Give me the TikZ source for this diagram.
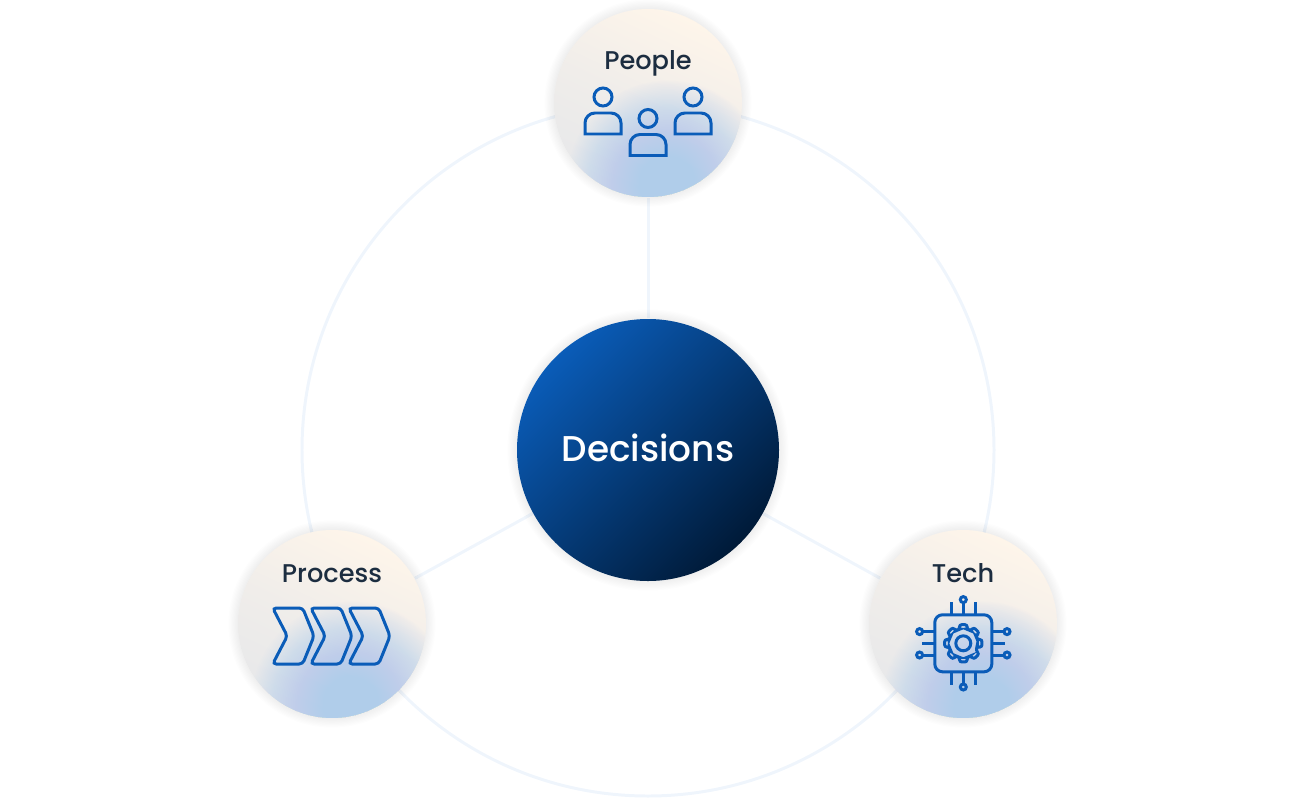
\documentclass[tikz,border=0pt]{standalone}
\usepackage{fontspec}
\setmainfont{Poppins Medium}
\usetikzlibrary{backgrounds}
\definecolor{ringblue}{HTML}{EFF5FC}
\definecolor{iconblue}{HTML}{0A5CB8}
\definecolor{inkdark}{HTML}{1C2D40}
\definecolor{blobcream}{HTML}{FEF5EA}
\definecolor{blobgray}{HTML}{E7E8EA}
\definecolor{blobtint}{HTML}{B0CDEE}
\definecolor{coretop}{HTML}{0A5CB8}
\definecolor{corelow}{HTML}{001A38}
\tikzset{
  ringline/.style={draw=ringblue, line width=0.85pt},
  iconline/.style={draw=iconblue, line width=0.85pt},
  blob/.style={circle, minimum size=1.88cm, inner sep=0pt, shading=axis, top color=blobcream,
    bottom color=blobgray, middle color=blobgray!60!blobcream, shading angle=-25,
    path picture={
      \foreach \k in {1,...,60}
        \fill[blobtint, opacity=0.03] ([shift={(0.2,-0.78)}]path picture bounding box.center) circle ({1.02*(1-\k/61)});
    }},
  blobtitle/.style={font=\fontsize{7.3pt}{9pt}\selectfont, text=inkdark, inner sep=0pt, anchor=base},
  person/.pic={
    \draw[iconline] (0,0) circle (0.09);
    \draw[iconline] (-0.18,-0.37) -- (-0.18,-0.26) arc (180:90:0.1) -- (0.08,-0.16) arc (90:0:0.1) -- (0.18,-0.37) -- cycle;
  },
  chevron/.pic={
    \draw[iconline, rounded corners=1pt] (0,0.28) -- (0.30,0.28) -- (0.413,0) -- (0.30,-0.28) -- (0,-0.28) -- (0.146,0) -- cycle;
  },
}
\newcommand{\softglow}[2]{\foreach \g in {1,...,8} \fill[black, opacity=0.007] (#1) circle ({#2+\g*0.012});}
\begin{document}
\begin{tikzpicture}
    \useasboundingbox (0,0) rectangle (12.96,8.10);
    % Main nodes
    \node[circle, minimum size=2.62cm, inner sep=0pt, left color=coretop, right color=corelow, shading angle=45] (decisions) at (6.48,3.60) {};
    \node[font=\fontsize{10.2pt}{12pt}\selectfont, text=white, inner sep=0pt, anchor=base] (decisionslabel) at (6.48,3.49) {Decisions};
    \node[blob] (people) at (6.48,7.07) {};
    \node[blob] (process) at (3.32,1.86) {};
    \node[blob] (tech) at (9.63,1.86) {};
    \node[blobtitle] (peoplelabel) at (6.48,7.405) {People};
    \node[blobtitle] (processlabel) at (3.32,2.28) {Process};
    \node[blobtitle] (techlabel) at (9.63,2.28) {Tech};
    % Ring, spokes and glow
    \begin{scope}[on background layer]
        \draw[ringline] (decisions.center) circle (3.46);
        \foreach \n in {people,process,tech} {
            \draw[ringline] (decisions) -- (\n);
            \softglow{\n}{0.94}
        }
        \softglow{decisions}{1.31}
    \end{scope}
    % People icon
    \pic at (6.03,7.13) {person};
    \pic at (6.48,6.915) {person};
    \pic at (6.93,7.13) {person};
    % Process icon
    \foreach \x in {2.727,3.107,3.487}
        \pic at (\x,1.74) {chevron};
    % Tech icon
    \begin{scope}[shift={(9.633,1.667)}]
        \draw[iconline, rounded corners=2.2pt] (-0.285,-0.285) rectangle (0.285,0.285);
        \draw[iconline] (0,0) circle (0.075);
        \draw[iconline, rounded corners=0.6pt] (-16:0.145)
            \foreach \a in {0,45,...,315} { -- (\a-11:0.19) -- (\a+11:0.19) -- (\a+16:0.145) -- (\a+29:0.145) } -- cycle;
        \foreach \r in {0,180} {
            \begin{scope}[rotate=\r]
                % right and left pins
                \draw[iconline] (0.285,0) -- (0.417,0);
                \draw[iconline] (0.285,0.117) -- (0.405,0.117);
                \draw[iconline] (0.285,-0.117) -- (0.405,-0.117);
                \draw[iconline] (0.437,0.117) circle (0.03);
                \draw[iconline] (0.437,-0.117) circle (0.03);
                % top and bottom pins
                \draw[iconline] (0.117,0.285) -- (0.117,0.417);
                \draw[iconline] (-0.117,0.285) -- (-0.117,0.417);
                \draw[iconline] (0,0.285) -- (0,0.405);
                \draw[iconline] (0,0.437) circle (0.03);
            \end{scope}
        }
    \end{scope}
\end{tikzpicture}
\end{document}
